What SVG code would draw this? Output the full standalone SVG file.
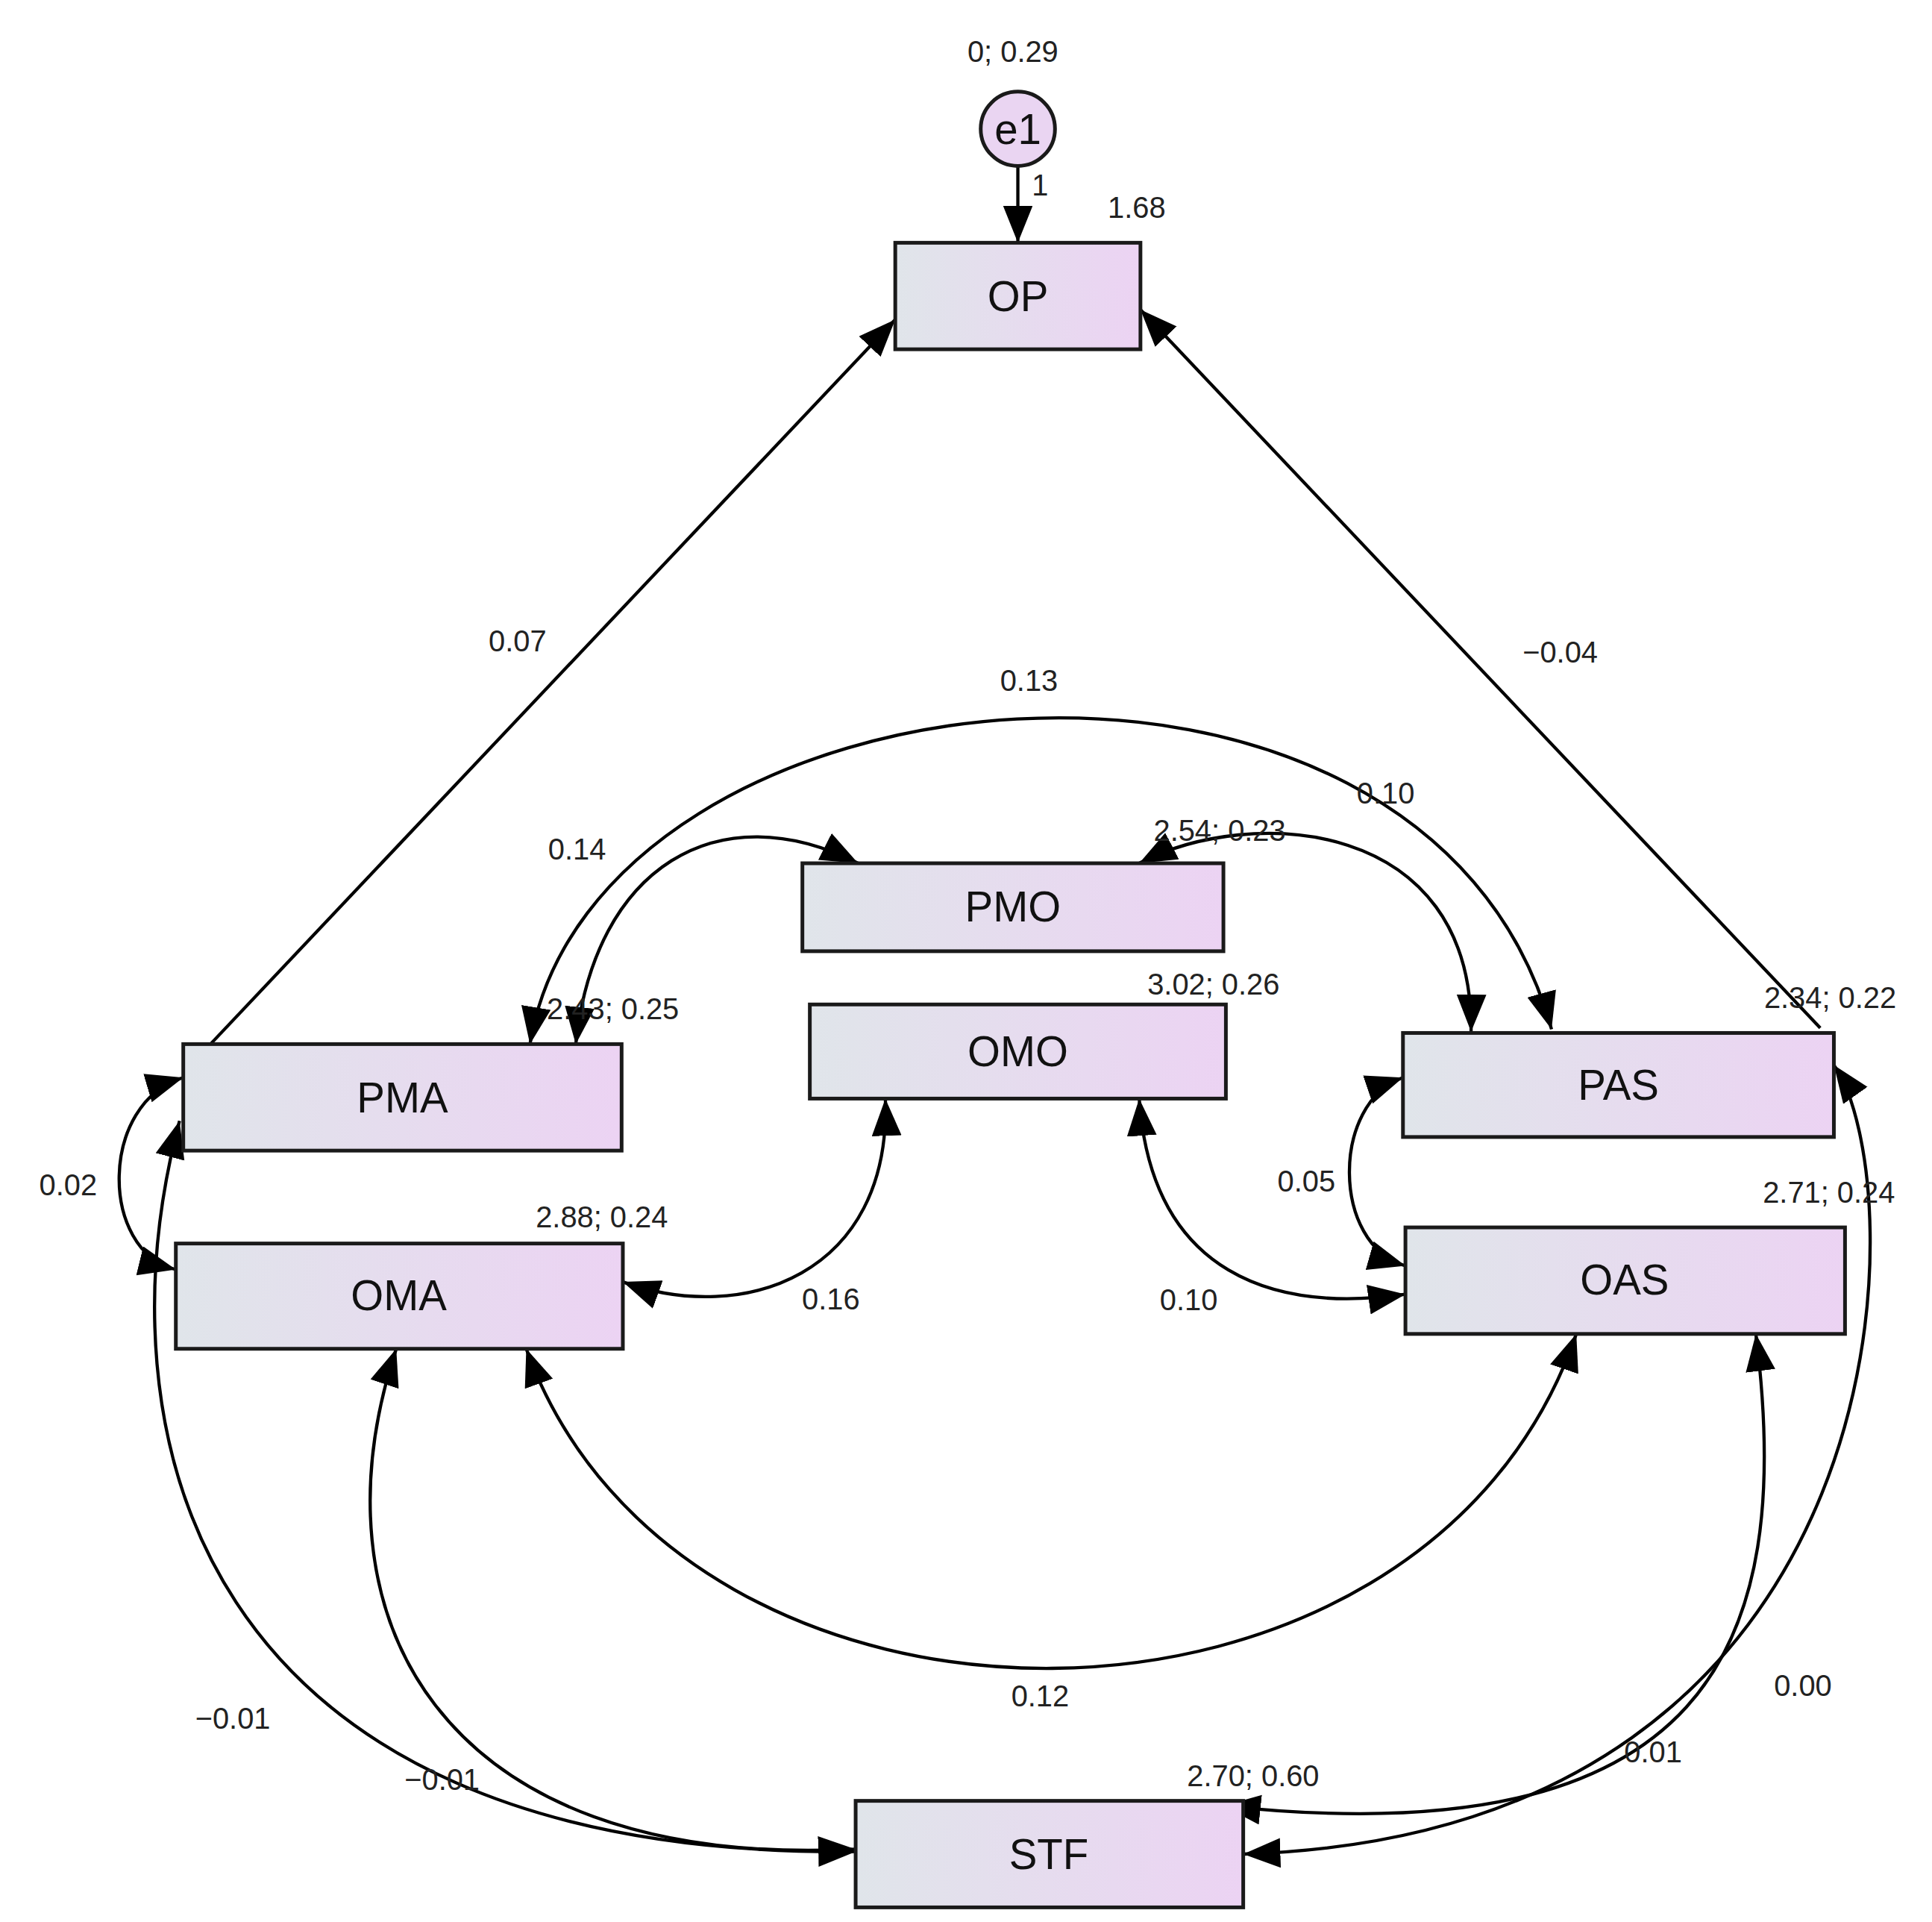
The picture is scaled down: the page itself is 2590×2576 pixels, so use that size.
<svg xmlns="http://www.w3.org/2000/svg" width="2590" height="2576" viewBox="0 0 2590 2576">
<style>
.box{fill:url(#g);stroke:#1a1a1a;stroke-width:3}
.nl{font-family:"Liberation Sans",Arial,sans-serif;font-size:34px;text-anchor:middle;fill:#111}
.lb{font-family:"Liberation Sans",Arial,sans-serif;font-size:24px;text-anchor:middle;fill:#222}
.c{fill:none;stroke:#000;stroke-width:2.6}
.b{marker-start:url(#a);marker-end:url(#a)}
.s{marker-end:url(#a)}
</style>
<defs>
<linearGradient id="g" x1="0" y1="0" x2="1" y2="0"><stop offset="0" stop-color="#e0e5ea"/><stop offset="1" stop-color="#ecd3f3"/></linearGradient>
<marker id="a" markerUnits="userSpaceOnUse" markerWidth="32" markerHeight="26" refX="30" refY="12" orient="auto-start-reverse"><path d="M0,0 L30,12 L0,24 z" fill="#000"/></marker>
</defs>
<rect width="2590" height="2576" fill="#fff"/>
<g transform="scale(1.66)">
<g id="connectors">
<path class="c s" d="M822,134 L822,196"/>
<path class="c s" d="M170,843 L723,258"/>
<path class="c s" d="M1470,830 L921,250"/>
<path class="c b" d="M428,843 C480,530 1150,460 1253,831"/>
<path class="c b" d="M465,843 C480,700 580,640 693,697"/>
<path class="c b" d="M920,697 C1010,650 1190,660 1188,833"/>
<path class="c b" d="M148,870 C80,890 80,1010 142,1025"/>
<path class="c b" d="M1133,870 C1075,890 1075,1005 1135,1022"/>
<path class="c b" d="M503,1035 C600,1070 720,1030 715,887"/>
<path class="c b" d="M920,887 C930,1030 1030,1060 1135,1045"/>
<path class="c b" d="M425,1089 C550,1435 1150,1435 1273,1077"/>
<path class="c b" d="M145,905 C80,1150 150,1500 691,1495"/>
<path class="c b" d="M320,1089 C250,1300 350,1510 691,1493"/>
<path class="c b" d="M1481,860 C1545,950 1550,1480 1004,1497"/>
<path class="c b" d="M1418,1077 C1450,1330 1380,1500 988,1458"/>
</g>
<g id="e1"><circle cx="822" cy="104" r="30" fill="#ead5f2" stroke="#1a1a1a" stroke-width="3"/><text class="nl" x="822" y="116">e1</text><text class="lb" x="818" y="50">0; 0.29</text><text class="lb" x="840" y="158">1</text></g>
<g id="OP"><rect class="box" x="723" y="196" width="198" height="86"/><text class="nl" x="822" y="251">OP</text><text class="lb" x="918" y="176">1.68</text></g>
<g id="PMO"><rect class="box" x="648" y="697" width="340" height="71"/><text class="nl" x="818" y="744">PMO</text><text class="lb" x="985" y="679">2.54; 0.23</text></g>
<g id="OMO"><rect class="box" x="654" y="811" width="336" height="76"/><text class="nl" x="822" y="861">OMO</text><text class="lb" x="980" y="803">3.02; 0.26</text></g>
<g id="PMA"><rect class="box" x="148" y="843" width="354" height="86"/><text class="nl" x="325" y="898">PMA</text><text class="lb" x="495" y="823">2.43; 0.25</text></g>
<g id="OMA"><rect class="box" x="142" y="1004" width="361" height="85"/><text class="nl" x="322" y="1058">OMA</text><text class="lb" x="486" y="991">2.88; 0.24</text></g>
<g id="PAS"><rect class="box" x="1133" y="834" width="348" height="84"/><text class="nl" x="1307" y="888">PAS</text><text class="lb" x="1478" y="814">2.34; 0.22</text></g>
<g id="OAS"><rect class="box" x="1135" y="991" width="355" height="86"/><text class="nl" x="1312" y="1045">OAS</text><text class="lb" x="1477" y="971">2.71; 0.24</text></g>
<g id="STF"><rect class="box" x="691" y="1454" width="313" height="86"/><text class="nl" x="847" y="1509">STF</text><text class="lb" x="1012" y="1442">2.70; 0.60</text></g>
<g id="labels">
<text class="lb" x="418" y="526">0.07</text>
<text class="lb" x="1260" y="535">−0.04</text>
<text class="lb" x="831" y="558">0.13</text>
<text class="lb" x="1119" y="649">0.10</text>
<text class="lb" x="466" y="694">0.14</text>
<text class="lb" x="55" y="965">0.02</text>
<text class="lb" x="1055" y="962">0.05</text>
<text class="lb" x="671" y="1057">0.16</text>
<text class="lb" x="960" y="1058">0.10</text>
<text class="lb" x="840" y="1378">0.12</text>
<text class="lb" x="188" y="1396">−0.01</text>
<text class="lb" x="357" y="1445">−0.01</text>
<text class="lb" x="1456" y="1369">0.00</text>
<text class="lb" x="1335" y="1423">0.01</text>
</g>
</g>
</svg>
